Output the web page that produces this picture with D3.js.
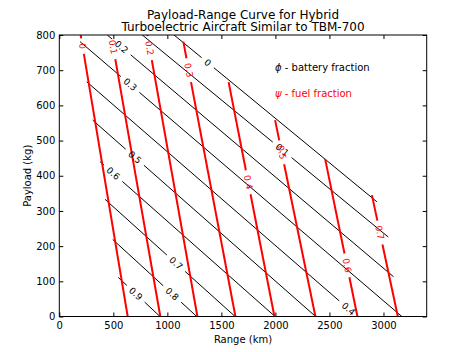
<!DOCTYPE html>
<html>
<head>
<meta charset="utf-8">
<script src="https://cdn.jsdelivr.net/npm/d3@7/dist/d3.min.js"></script>
<style>
  body { margin: 0; background: #fff; }
  text { font-family: "DejaVu Sans", sans-serif; }
</style>
</head>
<body>
<div id="chart"></div>
<script>
// tick labels
var rangeTicks = [0, 500, 1000, 1500, 2000, 2500, 3000];
var payloadTicks = [0, 100, 200, 300, 400, 500, 600, 700, 800];

// battery fraction (phi) contours, [range km, payload kg]
var phiLevels = [0, 0.1, 0.2, 0.3, 0.4, 0.5, 0.6, 0.7, 0.8, 0.9];
var phiStart = [[1062, 800], [768, 800], [444, 800], [192, 781], [254, 667],
                [309, 558], [377, 440], [423, 333], [494, 219], [546, 111]];
var phiEnd = [[2939, 326], [3044, 226], [3093, 113], [3170, 0], [2757, 0],
              [2372, 0], [1997, 0], [1627, 0], [1272, 0], [932, 0]];
var phiLabel = [[1363, 717], [2053, 470], [567, 763], [627, 649], [2682, 24],
                [692, 450], [488, 403], [1081, 152], [1053, 67], [715, 67]];

// fuel fraction (psi) contours
var psiLevels = [0, 0.1, 0.2, 0.3, 0.4, 0.5, 0.6, 0.7];
var psiStart = [[198, 800], [479, 800], [815, 800], [1148, 781],
                [1567, 666], [1997, 558], [2460, 448], [2893, 345]];
var psiEnd = [[633, 0], [935, 0], [1278, 0], [1630, 0],
              [1991, 0], [2370, 0], [2759, 0], [3133, 0]];
var psiLabel = [[224, 769], [506, 766], [840, 763], [1196, 700],
                [1756, 382], [2062, 467], [2673, 146], [2988, 240]];

var W = 474, H = 352;
var margin = { top: 35, right: 47.3, bottom: 35.5, left: 59.3 };
var w = W - margin.left - margin.right,
    h = H - margin.top - margin.bottom;
var RED = '#ff0000';

function translation(x, y) {
  return 'translate(' + x + ',' + y + ')';
}

var svg = d3.select('#chart').append('svg')
  .attr('width', W)
  .attr('height', H);

var plot = svg.append('g')
  .attr('transform', translation(margin.left, margin.top));

var xScale = d3.scaleLinear().domain([0, 3400]).range([0, w]);
var yScale = d3.scaleLinear().domain([0, 800]).range([h, 0]);

svg.append('defs').append('clipPath')
  .attr('id', 'clip')
  .append('rect')
  .attr('width', w)
  .attr('height', h);

// AXES - matplotlib classic, ticks pointing inward on all sides
function styleAxis(sel) {
  sel.select('.domain').remove();
  sel.selectAll('line').attr('stroke', '#000');
  sel.selectAll('text')
    .attr('fill', '#000')
    .style('font-size', '10px')
    .style('font-family', '"DejaVu Sans", sans-serif');
}

var plain = d3.format('d');

plot.append('g')
  .attr('transform', translation(0, h))
  .call(d3.axisBottom(xScale).tickValues(rangeTicks).tickFormat(plain)
    .tickSizeInner(-4).tickSizeOuter(0).tickPadding(5))
  .call(styleAxis);

plot.append('g')
  .call(d3.axisTop(xScale).tickValues(rangeTicks).tickSizeInner(-4).tickSizeOuter(0).tickFormat(''))
  .call(styleAxis);

plot.append('g')
  .call(d3.axisLeft(yScale).tickValues(payloadTicks).tickFormat(plain)
    .tickSizeInner(-4).tickSizeOuter(0).tickPadding(4))
  .call(styleAxis);

plot.append('g')
  .attr('transform', translation(w, 0))
  .call(d3.axisRight(yScale).tickValues(payloadTicks).tickSizeInner(-4).tickSizeOuter(0).tickFormat(''))
  .call(styleAxis);

// CONTOURS
var lineG = plot.append('g').attr('clip-path', 'url(#clip)');
var labelG = plot.append('g');

// draws one straight contour with an inline label cut into it
function drawContour(start, end, anchor, level, color, width) {
  var x0 = xScale(start[0]), y0 = yScale(start[1]),
      x1 = xScale(end[0]), y1 = yScale(end[1]);
  var dx = x1 - x0, dy = y1 - y0,
      len = Math.sqrt(dx * dx + dy * dy);
  var ax = xScale(anchor[0]), ay = yScale(anchor[1]);
  var t = ((ax - x0) * dx + (ay - y0) * dy) / (len * len);
  var cx = x0 + t * dx, cy = y0 + t * dy;
  var angle = Math.atan2(dy, dx) * 180 / Math.PI;
  if (angle > 90) angle -= 180;
  if (angle < -90) angle += 180;

  var lab = labelG.append('text')
    .attr('transform', translation(cx, cy) + ' rotate(' + angle + ')')
    .attr('text-anchor', 'middle')
    .attr('dy', '0.35em')
    .attr('fill', color)
    .style('font-size', '9px')
    .text(String(level));

  var half = lab.node().getComputedTextLength() / 2 + 5;
  var pieces = [[0, t - half / len], [t + half / len, 1]];
  pieces.forEach(function(p) {
    var a = Math.max(0, p[0]), b = Math.min(1, p[1]);
    if (b <= a) return;
    lineG.append('line')
      .attr('x1', x0 + a * dx).attr('y1', y0 + a * dy)
      .attr('x2', x0 + b * dx).attr('y2', y0 + b * dy)
      .attr('stroke', color)
      .attr('stroke-width', width);
  });
}

phiLevels.forEach(function(d, i) {
  drawContour(phiStart[i], phiEnd[i], phiLabel[i], d, '#000', 1);
});
psiLevels.forEach(function(d, i) {
  drawContour(psiStart[i], psiEnd[i], psiLabel[i], d, RED, 2);
});

// frame
plot.append('rect')
  .attr('width', w)
  .attr('height', h)
  .attr('fill', 'none')
  .attr('stroke', '#000')
  .attr('stroke-width', 1);

// LEGEND TEXT
var leg1 = plot.append('text')
  .attr('x', 275 - margin.left).attr('y', 71 - margin.top)
  .style('font-size', '10px').attr('fill', '#000');
leg1.append('tspan').style('font-style', 'italic').text('\u03D5');
leg1.append('tspan').text(' - battery fraction');

var leg2 = plot.append('text')
  .attr('x', 275 - margin.left).attr('y', 97 - margin.top)
  .style('font-size', '10px').attr('fill', RED);
leg2.append('tspan').style('font-style', 'italic').text('\u03C8');
leg2.append('tspan').text(' - fuel fraction');

// TITLES
svg.append('text')
  .attr('x', margin.left + w / 2).attr('y', 18.5)
  .attr('text-anchor', 'middle')
  .style('font-size', '12px')
  .text('Payload-Range Curve for Hybrid');
svg.append('text')
  .attr('x', margin.left + w / 2).attr('y', 31)
  .attr('text-anchor', 'middle')
  .style('font-size', '12px')
  .text('Turboelectric Aircraft Similar to TBM-700');

svg.append('text')
  .attr('x', margin.left + w / 2).attr('y', 343)
  .attr('text-anchor', 'middle')
  .style('font-size', '10px')
  .text('Range (km)');

svg.append('text')
  .attr('transform', translation(31, margin.top + h / 2) + ' rotate(-90)')
  .attr('text-anchor', 'middle')
  .style('font-size', '10px')
  .text('Payload (kg)');
</script>
</body>
</html>
